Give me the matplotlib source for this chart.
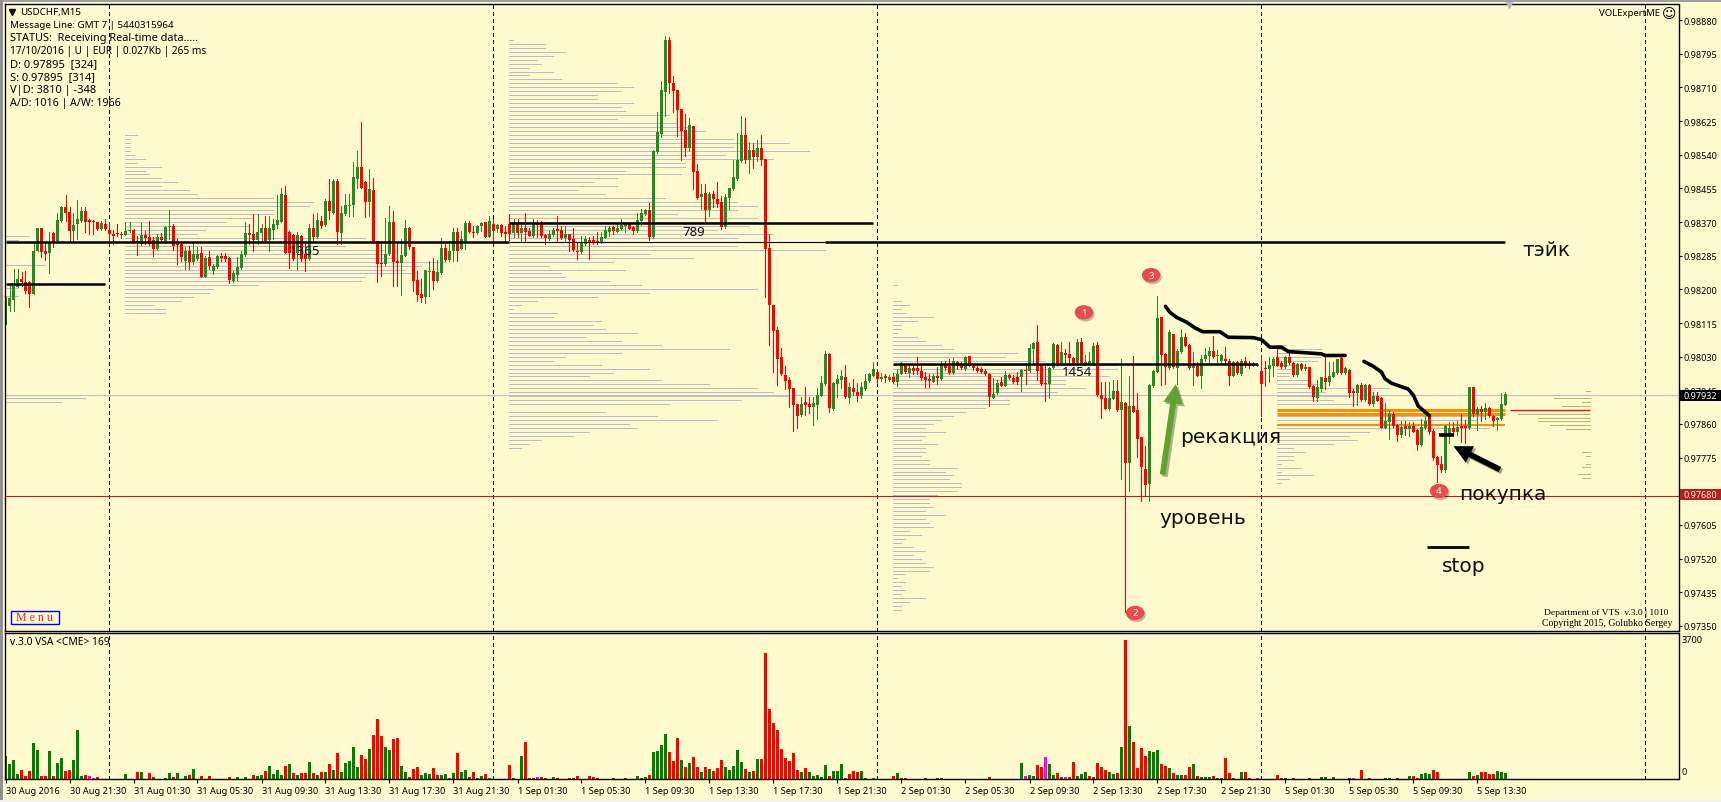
import matplotlib
matplotlib.use('Agg')
import matplotlib.pyplot as plt
import matplotlib.patheffects as pe
from matplotlib.patches import Ellipse, Rectangle
import numpy as np

W, H = 1721, 803
BG = '#FFFACD'
plt.rcParams['font.family'] = ['Noto Sans', 'DejaVu Sans']

base_price = 0.97
point = 0.00001

# candles, in points above 0.97000
opens = [
    1150,1157,1173,1207,1226,1219,1218,1188,1296,1356, 1296,1292,1341,1323,1373,1409,1394,1348,1365,1373,
    1399,1375,1373,1369,1352,1365,1350,1340,1343,1340, 1338,1347,1350,1323,1314,1337,1331,1325,1302,1333,
    1323,1357,1361,1314,1314,1272,1296,1268,1276,1292, 1232,1281,1247,1257,1285,1283,1278,1222,1236,1253,
    1287,1342,1340,1325,1342,1354,1325,1350,1363,1371, 1438,1344,1337,1293,1334,1289,1276,1355,1331,1373,
    1362,1424,1394,1474,1342,1390,1411,1413,1478,1510, 1470,1420,1452,1323,1266,1264,1289,1371,1272,1266,
    1285,1356,1308,1223,1188,1180,1245,1247,1222,1241, 1304,1275,1296,1345,1302,1323,1367,1345,1342,1359,
    1369,1333,1365,1352,1362,1345,1365,1341,1367,1341, 1355,1348,1335,1367,1365,1337,1326,1337,1352,1350,
    1329,1340,1327,1298,1295,1314,1325,1324,1321,1319, 1330,1345,1357,1346,1352,1359,1365,1358,1347,1373,
    1390,1400,1331,1546,1592,1699,1829,1721,1703,1655, 1602,1558,1613,1499,1432,1442,1401,1441,1428,1420,
    1358,1431,1453,1478,1523,1590,1526,1551,1534,1557, 1529,1304,1160,1097,1028,984,971,951,910,883,
    915,910,904,908,931,961,1037,899,961,971, 979,926,951,941,930,948,968,982,992,973,
    982,972,979,965,986,1010,989,1001,1001,995, 978,973,967,982,974,1012,1007,989,1016,1007,
    999,1031,1007,1001,999,995,986,926,937,967, 957,984,976,978,978,996,995,1050,1067,1012,
    963,961,1001,1060,1012,1039,1037,1027,1014,1066, 1012,1012,1012,1060,933,926,898,923,944,895,
    913,762,905,895,826,746,709,955,992,1129, 1037,1001,1087,1001,1041,1079,1060,1001,1007,980,
    1023,1031,1045,1031,1020,1024,1020,982,1016,986, 1020,1012,1007,1007,995,1001,999,1007,1028,1014,
    1003,1028,1014,984,1012,999,1003,957,926,948, 976,965,979,989,1026,989,997,944,938,959,
    921,959,910,930,925,850,866,885,858,832, 856,847,854,844,808,849,877,843,777,759,
    744,828,849,839,855,856,849,954,883,898, 890,900,881,870,873,909]
highs = [
    1180,1209,1251,1251,1243,1247,1222,1319,1356,1356, 1319,1344,1344,1394,1411,1438,1407,1394,1425,1407,
    1407,1377,1376,1371,1373,1377,1371,1351,1365,1346, 1369,1369,1352,1335,1367,1348,1373,1331,1340,1341,
    1361,1400,1365,1327,1316,1306,1310,1319,1306,1306, 1285,1298,1264,1287,1293,1292,1281,1247,1281,1298,
    1371,1365,1390,1390,1365,1386,1386,1377,1438,1457, 1462,1348,1340,1344,1337,1314,1365,1390,1394,1386,
    1428,1478,1478,1478,1411,1441,1441,1521,1550,1622, 1474,1504,1480,1323,1323,1379,1411,1399,1320,1327,
    1376,1358,1308,1247,1226,1250,1272,1278,1275,1329, 1314,1323,1356,1356,1348,1373,1373,1361,1362,1371,
    1371,1384,1377,1365,1365,1361,1390,1377,1377,1369, 1393,1354,1377,1376,1373,1340,1348,1356,1384,1361,
    1359,1340,1354,1319,1335,1335,1331,1334,1344,1344, 1359,1361,1361,1367,1377,1371,1367,1361,1393,1403,
    1404,1418,1552,1647,1725,1839,1838,1738,1704,1655, 1643,1633,1613,1516,1466,1466,1445,1449,1472,1435,
    1441,1457,1526,1595,1637,1632,1571,1569,1577,1590, 1529,1340,1160,1104,1053,1007,978,951,910,929,
    954,929,927,950,982,1044,1039,965,984,996, 1009,963,973,963,967,986,990,1016,999,989,
    986,984,990,1000,1016,1012,1012,1012,1030,1012, 991,986,986,1003,1020,1020,1024,1026,1020,1017,
    1031,1031,1012,1006,1003,999,989,976,972,978, 995,986,984,992,999,1012,1062,1068,1110,1012,
    1012,1003,1064,1062,1066,1050,1066,1030,1075,1076, 1033,1041,1064,1066,965,965,965,971,971,1024,
    915,982,1031,938,826,805,961,996,1182,1129, 1039,1098,1087,1049,1100,1090,1062,1041,1016,1034,
    1051,1054,1081,1047,1037,1054,1023,1020,1018,1023, 1028,1020,1016,1014,1033,1020,1028,1028,1054,1020,
    1031,1039,1016,1013,1014,1012,1005,959,970,978, 1031,1017,1017,1024,1028,1003,999,948,961,964,
    961,961,942,942,927,913,895,890,860,868, 868,866,864,847,873,881,881,847,780,778,
    858,864,864,868,884,871,954,954,902,905, 912,903,883,877,938,940]
lows = [
    1112,1146,1146,1205,1209,1192,1156,1188,1296,1281, 1275,1241,1306,1323,1371,1373,1323,1323,1327,1369,
    1344,1340,1340,1351,1351,1351,1312,1314,1335,1330, 1337,1344,1319,1287,1312,1314,1312,1285,1300,1323,
    1319,1327,1299,1264,1272,1251,1251,1264,1275,1230, 1230,1251,1239,1255,1272,1272,1216,1218,1223,1251,
    1285,1314,1298,1314,1323,1319,1298,1327,1356,1369, 1292,1253,1275,1251,1272,1247,1275,1319,1329,1356,
    1361,1377,1390,1314,1314,1388,1386,1386,1457,1455, 1382,1386,1320,1218,1234,1262,1287,1209,1209,1186,
    1283,1303,1197,1171,1167,1165,1184,1201,1219,1239, 1272,1272,1272,1272,1302,1303,1342,1331,1340,1348,
    1331,1331,1316,1346,1334,1321,1325,1331,1333,1321, 1320,1334,1333,1333,1333,1314,1324,1335,1319,1327,
    1319,1296,1296,1276,1293,1312,1276,1314,1314,1317, 1329,1335,1340,1344,1351,1344,1352,1340,1346,1362,
    1388,1325,1330,1544,1584,1638,1696,1648,1588,1526, 1537,1550,1453,1428,1404,1371,1384,1409,1409,1352,
    1356,1404,1452,1475,1521,1519,1494,1506,1524,1515, 1181,1059,992,958,984,948,904,843,851,879,
    883,889,857,872,930,958,891,896,927,952, 926,913,934,919,926,947,967,980,963,969,
    967,969,963,957,985,989,978,986,986,972, 954,954,965,961,972,997,986,986,999,999,
    997,1006,997,991,989,984,906,925,936,955, 955,974,964,961,944,961,992,1012,970,959,
    919,926,1001,1007,1009,1012,1010,1012,1012,1012, 1010,1010,1010,930,875,898,896,922,894,720,
    386,692,890,776,666,681,665,954,991,959, 961,999,1001,961,1039,1056,999,959,980,951,
    1020,1012,1026,1012,1012,1012,959,980,986,984, 1003,1001,1006,1006,881,957,965,982,1006,1001,
    1001,1012,980,982,997,997,950,919,917,944, 948,959,978,986,986,986,927,906,908,919,
    919,909,906,917,849,849,822,853,817,826, 831,829,839,794,805,847,835,770,714,738,
    740,812,837,833,815,812,847,881,846,868, 873,878,856,845,871,908]
closes = [
    1163,1178,1209,1226,1218,1197,1188,1296,1356,1295, 1289,1319,1319,1375,1407,1393,1348,1362,1377,1397,
    1369,1369,1371,1352,1367,1352,1340,1335,1340,1337, 1348,1351,1320,1316,1337,1329,1314,1302,1333,1325,
    1357,1361,1310,1312,1282,1296,1268,1289,1289,1232, 1278,1258,1260,1285,1278,1276,1223,1241,1257,1289,
    1342,1337,1325,1344,1356,1323,1356,1365,1375,1441, 1293,1293,1276,1337,1276,1276,1355,1331,1375,1361,
    1424,1399,1474,1344,1393,1413,1414,1483,1510,1457, 1421,1453,1323,1264,1263,1289,1369,1268,1266,1287,
    1354,1306,1222,1186,1178,1250,1247,1222,1243,1304, 1275,1298,1345,1298,1327,1367,1344,1342,1361,1367,
    1333,1373,1348,1362,1342,1340,1340,1367,1341,1355, 1345,1335,1367,1362,1335,1329,1340,1350,1348,1329,
    1340,1325,1299,1294,1317,1327,1319,1319,1317,1333, 1350,1356,1348,1356,1362,1367,1352,1347,1376,1393,
    1401,1333,1550,1598,1703,1829,1721,1701,1653,1599, 1558,1615,1497,1431,1441,1401,1441,1428,1415,1358,
    1433,1455,1484,1526,1590,1526,1551,1535,1558,1526, 1302,1160,1095,1024,986,968,948,908,881,910,
    908,903,913,933,963,1037,900,963,973,982, 927,954,940,930,954,968,986,999,973,978,
    976,979,965,986,1014,991,1001,995,993,976, 971,968,982,976,1009,1001,989,1020,1007,1001,
    1028,1007,1001,993,991,986,927,936,963,957, 984,976,965,965,997,994,1052,1065,995,961,
    961,1001,1062,1012,1041,1034,1027,1013,1066,1014, 1017,1020,1058,932,923,898,926,944,895,915,
    762,905,891,822,752,706,959,994,1128,1034, 1005,1092,1003,1044,1079,1058,1001,1007,982,1024,
    1034,1044,1028,1034,1034,1018,980,1017,989,1020, 1006,1006,1012,1012,961,999,1009,1024,1007,1003,
    1028,1013,984,1012,999,1003,953,929,953,978, 967,982,992,1024,989,1001,938,938,959,921,
    959,911,930,919,850,868,885,856,833,853, 847,856,841,808,853,868,839,773,757,744,
    856,850,839,853,849,849,954,884,898,891, 900,879,868,874,911,935]

volumes = [
    623,409,516,142,249,89,223,970,783,89, 89,757,89,436,570,223,249,516,1317,89,
    116,89,36,62,9,9,0,0,0,0, 142,9,9,196,196,9,169,62,9,9,
    36,169,62,169,9,89,116,276,9,89, 9,89,9,9,9,9,62,9,62,9,
    62,9,116,89,116,223,356,142,249,116, 356,409,169,116,169,169,463,169,116,196,
    196,409,249,703,196,436,490,863,329,650, 543,810,1184,1611,1157,863,783,1077,1104,356,
    196,62,276,329,116,169,142,303,116,116, 142,36,169,703,196,249,62,196,36,89,
    142,36,0,0,0,0,383,36,9,623, 997,36,36,62,62,36,9,62,36,9,
    9,36,36,89,9,9,89,62,36,9, 9,9,36,9,9,36,9,9,89,36,
    62,116,730,757,917,1210,730,490,1104,516, 329,436,596,329,196,329,276,223,303,516,
    329,249,356,783,463,276,196,223,543,543, 3373,1878,1504,1317,810,570,490,703,249,196,
    303,196,89,116,62,383,89,223,223,409, 36,142,223,196,223,36,9,36,0,0,
    0,0,89,169,36,36,9,9,9,9, 36,9,9,36,36,9,9,9,9,9,
    9,9,0,9,9,9,62,9,9,9, 9,9,9,9,436,89,116,89,383,329,
    596,409,116,169,62,62,62,463,89,142, 196,89,62,436,329,249,196,142,169,863,
    3702,1424,997,303,837,623,757,730,783,409, 356,303,169,116,116,116,329,409,89,62,
    62,62,89,36,36,570,169,36,9,196, 196,36,9,36,0,0,0,0,116,36,
    36,9,36,9,9,9,36,9,9,62, 62,9,62,9,9,0,36,36,9,249,
    9,36,9,9,9,36,36,9,36,9, 9,89,89,36,142,169,142,249,196,0,
    0,0,0,0,0,0,196,89,116,196, 196,142,142,223,196,169]
volume_kinds = (
    'ggggrrrggrrgrggrrgggrmmrrg' 'gggg' 'ggrrgrrrgr' 'ggrgrgrggr' 'rrgrrrrggr' 'grrggrgggg'
    'rgrgrrgrgr' 'grgrgggggr' 'rgrrrggrrg' 'grrrgggrrg' 'grgrggrrgg' 'rgggggrgrg'
    'rgrmrrggrg' 'grrrggrrrg' 'ggrgggrrgg' 'grggggrrrg' 'rgrrgrgrrr' 'gggggrgrgr'
    'rrrrrrrrrg' 'rgggggrggg' 'rrrrggrggg' 'ggrgrrrrrr' 'rggrgrrggr' 'grgrrrrggg'
    'grrggmggrr' 'mggrgmrrgg' 'grgrrrggrg' 'rgrrrrgggr' 'rgrggrrgrg' 'ggrggrrgrg'
    'rrgmggggrr' 'grrgggrggg' 'gggrggrmgr' 'grrrrggrrg' 'ggrrgggrrg' 'gggggggrgr' 'rrrggg')

date_labels = ['30 Aug 2016', '30 Aug 21:30', '31 Aug 01:30', '31 Aug 05:30', '31 Aug 09:30', '31 Aug 13:30',
               '31 Aug 17:30', '31 Aug 21:30', '1 Sep 01:30', '1 Sep 05:30', '1 Sep 09:30', '1 Sep 13:30',
               '1 Sep 17:30', '1 Sep 21:30', '2 Sep 01:30', '2 Sep 05:30', '2 Sep 09:30', '2 Sep 13:30',
               '2 Sep 17:30', '2 Sep 21:30', '5 Sep 01:30', '5 Sep 05:30', '5 Sep 09:30', '5 Sep 13:30']
price_ticks = ['0.98880', '0.98795', '0.98710', '0.98625', '0.98540', '0.98455', '0.98370', '0.98285',
               '0.98200', '0.98115', '0.98030', '0.97945', '0.97860', '0.97775', '0.97690', '0.97605',
               '0.97520', '0.97435', '0.97350']
day_breaks = [26, 122, 218, 314, 410]

# volume profiles: one length (in bars) per 10 point level, going down from the top level
profile_a_lengths = [3,1,1,1,1,2,5,3,9,5, 6,9,13,9,16,18,37,47,46,37, 37,32,25,31,20,18,60,70,55,65,
                     66,68,80,74,70,72,60,59,33,22, 21,17,14,7,10,10]
profile_b_lengths = [1,9,9,14,11,7,8,5,11,5, 13,27,31,28,22,22,31,28,29,40, 27,42,46,49,44,56,70,56,75,54,
                     66,44,44,29,43,27,21,27,17,24, 39,57,62,57,42,62,62,60,52,66, 57,57,57,79,35,46,26,10,29,13,
                     14,25,33,62,35,22,7,3,1,12, 11,23,21,24,32,19,28,38,55,28, 14,11,23,35,26,20,38,50,62,66,
                     70,58,40,0,24,37,52,30,32,20, 16,8,5,3]
profile_c_lengths = [1,0,0,0,2,4,2,3,10,6, 2,2,1,6,8,12,15,31,28,38, 56,56,37,54,43,43,48,41,39,29,
                     29,23,18,15,12,10,8,13,8,7, 11,8,8,7,9,9,16,13,15,14, 17,17,16,11,9,9,10,8,13,8,
                     9,10,4,7,3,2,5,8,5,7, 8,10,9,3,1,3,2,3,2,8, 4,2,2]
profile_d_lengths = [2,11,11,11,10,7,6,3,3,8, 10,28,12,19,14,20,0,0,52,50, 0,53,23,18,20,14,4,7,4,4,
                     1,6,1,9,3,1]
profile_left_levels = [1335, 1325, 1261, 1203, 1183, 925, 915]
profile_left_lengths = [6, 3, 10, 3, 3, 20, 14]
forecast_levels = [943, 934, 925, 915, 905, 885, 876, 867, 857, 848, 790, 780, 760, 751, 733, 723]
forecast_lengths = [1, 4, 9, 2, 7, 18, 13, 13, 10, 6, 2, 1, 1, 2, 3, 2]
orange_levels = [895, 885, 858]
orange_widths = [3.0, 3.0, 2.0]

# hand drawn lines
curve_1_x = [290.0, 291.1, 292.8, 295.3, 297.3, 299.3, 303.6, 305.7, 312.0, 314.0, 316.1, 318.6, 319.0, 320.7, 329.0, 329.9, 334.9]
curve_1_y = [1157, 1142, 1129, 1117, 1103, 1093, 1093, 1079, 1078, 1073, 1054, 1054, 1054, 1043, 1037, 1033, 1033]
curve_2_x = [339.6, 341.9, 344.0, 344.9, 346.5, 350.7, 352.0, 353.2, 356.0]
curve_2_y = [1018, 1006, 991, 974, 963, 948, 932, 905, 881]
bubble_labels = ['1', '2', '3', '4']
bubble_x = [269.6, 282.4, 286.4, 358.4]
bubble_y = [1142, 383, 1236, 691]


def to_price(points):
    return base_price + np.asarray(points, dtype=float) * point


def fx(x):
    return x / W


def fy(y):
    return 1 - y / H


fig = plt.figure(figsize=(W / 100, H / 100), dpi=100, facecolor=BG)
LEFT, RIGHT = 4.5, 1678.5
ax = fig.add_axes([fx(LEFT), fy(631.5), fx(RIGHT - LEFT), (631.5 - 4.5) / H], facecolor=BG)
vax = fig.add_axes([fx(LEFT), fy(780), fx(RIGHT - LEFT), (780 - 633.8) / H], facecolor=BG)

x_range = ((LEFT - 5.5) / 4, (RIGHT - 5.5) / 4)
for a in (ax, vax):
    a.set_xlim(x_range)
    for s in a.spines.values():
        s.set_linewidth(1.0)
        s.set_color('black')
ax.set_ylim(to_price(338.6), to_price(1921.7))
vax.set_ylim(0, 3906)

# profiles go under the candles
PROFILE = '#BABCC8'


def profile(start, top, lengths):
    for k, n in enumerate(lengths):
        if n > 0:
            ax.hlines(to_price(top - 10 * k), start, start + n, color=PROFILE, lw=0.72, antialiased=False, zorder=1)


profile(30, 1590, profile_a_lengths)
profile(125.9, 1830, profile_b_lengths)
profile(221.9, 1210, profile_c_lengths)
profile(317.9, 1060, profile_d_lengths)
ax.hlines(to_price(profile_left_levels), 0, profile_left_lengths, color=PROFILE, lw=0.72, antialiased=False, zorder=1)
forecast_end = 396.1
ax.hlines(to_price(forecast_levels), forecast_end - np.array(forecast_lengths), forecast_end,
          color='#BDB76B', lw=0.72, antialiased=False, zorder=1)
ax.hlines(to_price(895), forecast_end - 20, forecast_end, color='#E81010', lw=1.0, zorder=1)
for lv, lw in zip(orange_levels, orange_widths):
    ax.hlines(to_price(lv), 317.9, 375, color='#FF8C00', lw=lw * 0.72, zorder=1.5)

# day separators
for a in (ax, vax):
    for d in day_breaks:
        a.axvline(d, color='black', lw=0.72, ls=(0, (4, 4)), antialiased=False, zorder=1.8)

ax.axhline(to_price(932), color='#C0C0C0', lw=0.8, zorder=1.2)
ax.axhline(to_price(679), color='#B22222', lw=0.8, zorder=1.9)

# candles
o, h, l, c = [np.array(v, dtype=float) for v in (opens, highs, lows, closes)]
xs = np.arange(len(o))
up = c >= o
colors = np.where(up, '#228B22', '#FF0000')
ax.vlines(xs, to_price(l), to_price(h), colors=colors, lw=0.72, antialiased=False, zorder=2)
body_low = np.minimum(o, c)
body_high = np.maximum(np.maximum(o, c), body_low + 2.5)
ax.bar(xs, to_price(body_high) - to_price(body_low), bottom=to_price(body_low), width=0.72,
       color=colors, linewidth=0, antialiased=False, zorder=2.1)

# level lines drawn on the chart
BLK = dict(color='black', solid_capstyle='butt', zorder=3)
ax.plot([0, 125.9], to_price([1320, 1320]), lw=1.8, **BLK)
ax.plot([125.9, 205], to_price([1320, 1320]), lw=0.8, **BLK)
ax.plot([205, 375], to_price([1320, 1320]), lw=1.8, **BLK)
ax.plot([0, 25], to_price([1213, 1213]), lw=1.8, **BLK)
ax.plot([125.9, 217], to_price([1367, 1367]), lw=1.8, **BLK)
ax.plot([221.9, 313], to_price([1012, 1012]), lw=1.8, **BLK)
ax.plot([358.4, 362.1], to_price([831, 831]), lw=2.6, **BLK)
ax.plot([355.4, 366], to_price([549, 549]), lw=2.0, **BLK)
ax.plot(curve_1_x, to_price(curve_1_y), color='black', lw=2.6, solid_capstyle='round', solid_joinstyle='round', zorder=3)
ax.plot(curve_2_x, to_price(curve_2_y), color='black', lw=2.6, solid_capstyle='round', solid_joinstyle='round', zorder=3)

# arrows, with the drop shadow they have in the picture
shadow = [pe.SimplePatchShadow(offset=(1.5, -1.5), alpha=0.35), pe.Normal()]
ax.annotate('', xy=(292.6, to_price(961)), xytext=(289.3, to_price(732)), zorder=4,
            arrowprops=dict(arrowstyle='simple,head_width=1.0,head_length=1.0,tail_width=0.3', mutation_scale=14,
                            color='#5EA22F', lw=0, shrinkA=0, shrinkB=0, path_effects=shadow))
ax.annotate('', xy=(362, to_price(804)), xytext=(373.6, to_price(745)), zorder=4,
            arrowprops=dict(arrowstyle='simple,head_width=1.1,head_length=1.1,tail_width=0.34', mutation_scale=12,
                            color='black', lw=0, shrinkA=0, shrinkB=0, path_effects=shadow))

for lab, bx, by in zip(bubble_labels, bubble_x, bubble_y):
    e = Ellipse((bx, to_price(by)), 4.6, to_price(36) - to_price(0), fc='#E84B4B', ec='none', zorder=4)
    e.set_path_effects([pe.SimplePatchShadow(offset=(1, -1.5), alpha=0.3), pe.Normal()])
    ax.add_patch(e)
    ax.text(bx, to_price(by), lab, color='white', ha='center', va='center', fontsize=7, zorder=5)

# volumes
kind_colors = {'g': '#008000', 'r': '#FF0000', 'm': '#FF00FF'}
vol_colors = [kind_colors[k] for k in volume_kinds]
vax.bar(np.arange(len(volumes)), volumes, width=0.72, color=vol_colors, linewidth=0, antialiased=False, zorder=2)

# axes furniture
ax.yaxis.tick_right()
ax.set_yticks(to_price([float(t) * 100000 - 97000 for t in price_ticks]))
ax.set_yticklabels(price_ticks, fontsize=6.5)
ax.tick_params(axis='y', length=2.2, width=0.8, pad=1.6, colors='black')
ax.tick_params(axis='x', length=0, labelbottom=False)
vax.yaxis.tick_right()
vax.set_yticks([])
vax.set_xticks(np.arange(len(date_labels)) * 16)
vax.set_xticklabels(date_labels, fontsize=6.6, ha='left')
vax.tick_params(axis='x', length=3, width=0.8, pad=2)


def label(x, y, s, **kw):
    kw.setdefault('fontsize', 8)
    kw.setdefault('va', 'center')
    kw.setdefault('color', 'black')
    return fig.text(fx(x), fy(y), s, **kw)


# header block
ax.plot([0.0043], [0.9872], marker='v', ms=5, color='black', transform=ax.transAxes, clip_on=False, zorder=6)
label(20, 12.5, 'USDCHF,M15', fontsize=7.0)
label(9.5, 25.7, 'Message Line: GMT 7 | 5440315964', fontsize=7.0)
label(10, 38.5, 'STATUS:  Receiving Real-time data.....', fontsize=7.9)
label(10, 51.5, '17/10/2016 | U | EUR | 0.027Kb | 265 ms', fontsize=7.3)
label(10, 64.5, 'D: 0.97895  [324]', fontsize=8)
label(10, 77.5, 'S: 0.97895  [314]', fontsize=8)
label(10, 90.5, 'V|D: 3810 | -348', fontsize=8)
label(10, 103.5, 'A/D: 1016 | A/W: 1966', fontsize=7.7)

label(1660, 14, 'VOLExpertME', fontsize=6.9, ha='right')
label(1662, 14, '\u263A', fontsize=10, family='DejaVu Sans')
ax.plot([(1509 - LEFT) / (RIGHT - LEFT)], [0.997], marker='v', ms=5, color='#B8B8C0', transform=ax.transAxes, clip_on=False, zorder=6)

# labels the tool writes on the profiles
label(305, 252, '1365', fontsize=9.5, ha='center', color='#10102A', zorder=6)
label(694, 232, '789', fontsize=9.5, ha='center', color='#10102A', zorder=6)
label(1077, 373, '1454', fontsize=9.5, ha='center', color='#10102A', zorder=6)

# handwritten notes
NOTE = dict(fontsize=14.5, family='DejaVu Sans', color='#111111', zorder=6)
label(1522, 251, 'тэйк', **NOTE)
label(1180, 438, 'рекакция', **NOTE)
label(1159, 518, 'уровень', **NOTE)
label(1459, 495, 'покупка', **NOTE)
label(1442, 567, 'stop', **NOTE)

label(1668, 612.7, 'Department of VTS  v.3.0 | 1010', fontsize=6.8, family='Liberation Serif', ha='right', zorder=6)
label(1672, 624, 'Copyright 2015, Golubko Sergey', fontsize=7.0, family='Liberation Serif', ha='right', zorder=6)

fig.add_artist(Rectangle((fx(10.5), fy(625)), fx(48.5), 13 / H, fc=BG, ec='#0000F0', lw=1.0, transform=fig.transFigure, zorder=6))
label(34.5, 618.5, 'M e n u', fontsize=8.6, family='Liberation Serif', color='#F02020', ha='center', zorder=7)

label(10, 642.7, 'v.3.0 VSA <CME> 169', fontsize=7.4, zorder=6)
label(1682, 641, '3700', fontsize=6.6)
label(1682, 773, '0', fontsize=6.6)

# price boxes on the axis
fig.add_artist(Rectangle((fx(1679), fy(402)), fx(42), 11 / H, fc='black', ec='none', transform=fig.transFigure, zorder=6))
label(1684, 396.6, '0.97932', fontsize=6.5, color='white', zorder=7)
fig.add_artist(Rectangle((fx(1680), fy(501)), fx(41), 11 / H, fc='#B22222', ec='none', transform=fig.transFigure, zorder=6))
label(1684, 495.8, '0.97680', fontsize=6.5, color='#F5E6C8', zorder=7)

# window edges
fig.add_artist(Rectangle((0, fy(2.5)), 1, 2.5 / H, fc='#A0A0A0', ec='none', transform=fig.transFigure, zorder=8))
fig.add_artist(Rectangle((0, 0), fx(2.5), 1, fc='#909090', ec='none', transform=fig.transFigure, zorder=8))
fig.add_artist(Rectangle((0, 0), 1, 2 / H, fc='#F0F0F0', ec='none', transform=fig.transFigure, zorder=8))

fig.savefig('out.png', dpi=100, facecolor=BG)
